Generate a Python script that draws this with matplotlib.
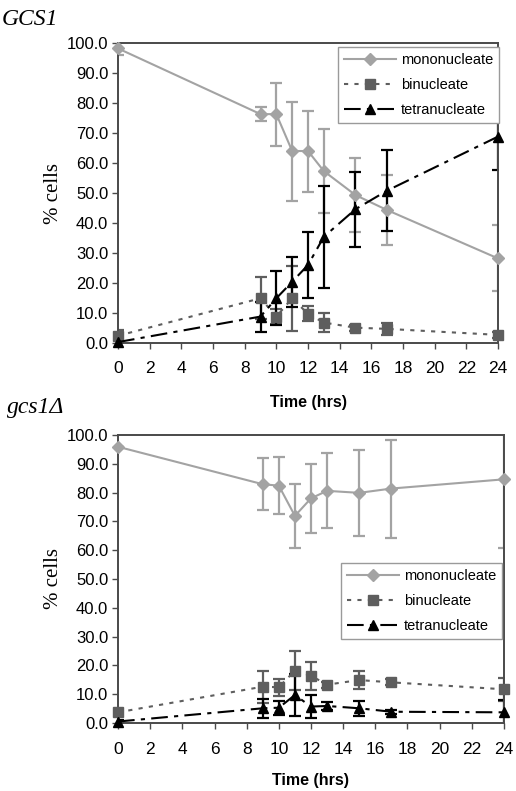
import matplotlib
matplotlib.use("Agg")
import matplotlib.pyplot as plt
import numpy as np

# time points (hrs)
hours = [0, 9, 10, 11, 12, 13, 15, 17, 24]

# GCS1 (wild type)
wt_mono = [98.2, 76.3, 76.3, 64.0, 64.0, 57.3, 49.3, 44.3, 28.2]
wt_mono_err = [2.2, 2.4, 10.5, 16.5, 13.5, 14.0, 12.4, 11.7, 11.0]
wt_bin = [2.4, 14.9, 8.8, 14.9, 9.7, 6.8, 5.1, 4.7, 2.7]
wt_bin_err = [2.0, 7.0, 2.5, 10.9, 2.5, 3.2, 1.0, 2.0, 1.0]
wt_tetra = [0.3, 8.8, 14.9, 20.4, 26.0, 35.4, 44.6, 50.8, 68.8]
wt_tetra_err = [0.5, 5.0, 9.0, 8.4, 11.0, 17.0, 12.5, 13.6, 11.0]

# gcs1 delta
ko_mono = [95.9, 82.9, 82.4, 71.9, 78.0, 80.6, 79.9, 81.4, 84.6]
ko_mono_err = [0.0, 9.0, 10.0, 11.0, 12.0, 13.0, 15.0, 17.0, 24.0]
ko_bin = [3.7, 12.6, 12.4, 18.2, 16.4, 13.3, 14.9, 14.1, 11.7]
ko_bin_err = [0.8, 5.5, 2.9, 6.9, 4.9, 1.0, 3.2, 1.0, 4.0]
ko_tetra = [0.5, 5.1, 5.3, 9.7, 5.7, 5.9, 5.1, 3.9, 3.7]
ko_tetra_err = [0.5, 3.2, 2.5, 7.3, 4.0, 1.5, 2.7, 0.7, 4.3]

series_names = ["mononucleate", "binucleate", "tetranucleate"]
x_ticks = list(range(0, 25, 2))
y_ticks = list(range(0, 101, 10))

MONO_C = "#a3a3a3"
BIN_C = "#5e5e5e"
TETRA_C = "#000000"
SPINE_C = "#4a4a4a"

styles = [
    dict(color=MONO_C, ls="-", marker="D", ms=6.5),
    dict(color=BIN_C, ls=(0, (2, 3)), marker="s", ms=6.5),
    dict(color=TETRA_C, ls=(0, (8, 3, 2, 3)), marker="^", ms=7.5),
]

fig = plt.figure(figsize=(5.16, 7.91), dpi=100)


def draw_panel(ax, data, legend_box, xpad, xlabpad, ylab_x):
    for (vals, errs), name, st in zip(data, series_names, styles):
        ax.errorbar(hours, vals, yerr=errs, fmt="none", ecolor=st["color"],
                    elinewidth=1.6, capsize=4.5, capthick=1.6, zorder=2)
        ax.plot(hours, vals, color=st["color"], ls=st["ls"], lw=1.5,
                marker=st["marker"], ms=st["ms"], mec=st["color"],
                mfc=st["color"], label=name, clip_on=False, zorder=3)
    ax.set_xlim(0, 24)
    ax.set_ylim(0, 100)
    ax.set_xticks(x_ticks)
    ax.set_yticks(y_ticks)
    ax.set_yticklabels([f"{v:.1f}" for v in y_ticks])
    ax.tick_params(direction="out", length=4, width=1.0, color=SPINE_C,
                   pad=3)
    ax.tick_params(axis="y", labelsize=12)
    ax.tick_params(axis="x", labelsize=12.5, pad=xpad)
    for sp in ax.spines.values():
        sp.set_color(SPINE_C)
        sp.set_linewidth(1.4)
    for lab in ax.get_xticklabels() + ax.get_yticklabels():
        lab.set_fontfamily("Liberation Sans")
    ax.set_xlabel("Time (hrs)", fontsize=11.5, fontweight="bold",
                  family="Liberation Sans", labelpad=xlabpad)
    ax.set_ylabel("% cells", fontsize=15, family="Liberation Serif")
    ax.yaxis.set_label_coords(ylab_x, 0.5)
    leg = ax.legend(loc="upper left", bbox_to_anchor=legend_box,
                    bbox_transform=fig.transFigure, frameon=True,
                    fancybox=False, edgecolor="#9a9a9a", framealpha=1,
                    prop={"family": "Liberation Sans", "size": 10.5},
                    handlelength=3.6, handletextpad=0.3, labelspacing=0.75,
                    borderpad=0.4, borderaxespad=0, numpoints=1)
    leg.get_frame().set_linewidth(1.0)


ax1 = fig.add_axes([0.2287, 0.5664, 0.9651 - 0.2287, 0.9456 - 0.5664])
draw_panel(ax1, [(wt_mono, wt_mono_err), (wt_bin, wt_bin_err),
                 (wt_tetra, wt_tetra_err)], (338 / 516, 1 - 47 / 791),
           9, 14, -0.145)

ax2 = fig.add_axes([0.2287, 0.0860, 0.9767 - 0.2287, 0.4501 - 0.0860])
draw_panel(ax2, [(ko_mono, ko_mono_err), (ko_bin, ko_bin_err),
                 (ko_tetra, ko_tetra_err)], (341 / 516, 1 - 563 / 791),
           10, 11, -0.142)

fig.text(0.004, 0.988, "GCS1", fontsize=17, style="italic",
         family="Liberation Serif", va="top", ha="left")
fig.text(0.014, 0.498, "gcs1\u0394", fontsize=17, style="italic",
         family="Liberation Serif", va="top", ha="left")

fig.savefig("out.png", dpi=100)
